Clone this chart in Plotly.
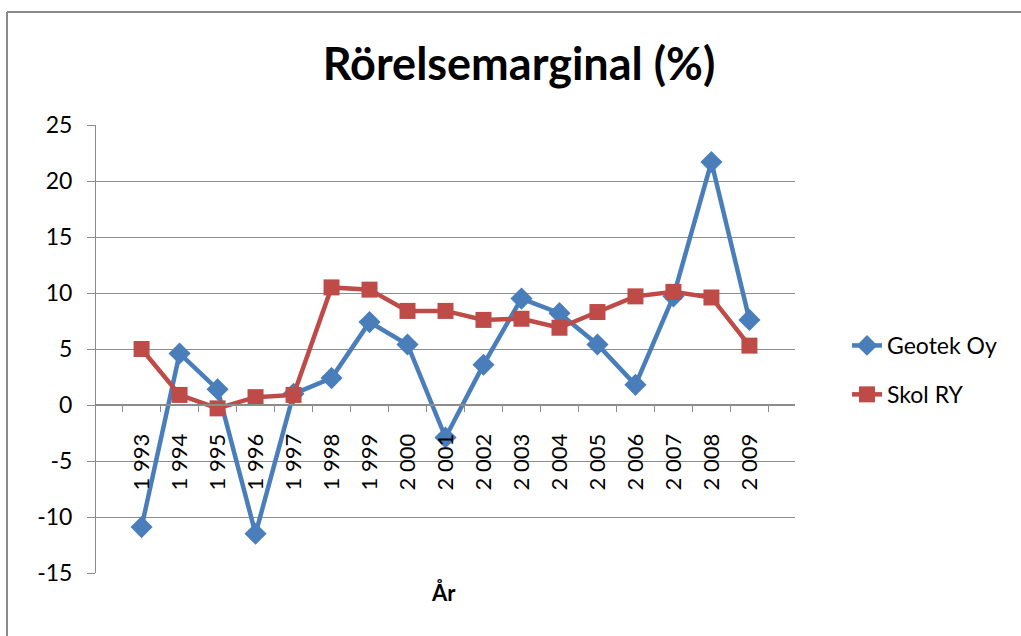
"""Rörelsemarginal line chart (Excel-style)."""
import plotly.graph_objects as go

years = [str(y) for y in range(1993, 2010)]
tick_labels = [f"{y[0]} {y[1:]}" for y in years]
y_ticks = [-15, -10, -5, 0, 5, 10, 15, 20, 25]

geotek = [-10.9, 4.6, 1.4, -11.5, 1.0, 2.4, 7.4, 5.4, -2.9, 3.6,
          9.5, 8.2, 5.4, 1.8, 9.7, 21.7, 7.6]
skol = [5.0, 0.9, -0.3, 0.7, 0.9, 10.5, 10.3, 8.4, 8.4, 7.6,
        7.7, 6.9, 8.3, 9.7, 10.1, 9.6, 5.3]

BLUE = "#4a7ebb"
RED = "#be4b48"
GRID = "#8c8c8c"
FONT = "Lato, 'Open Sans', sans-serif"

W, H = 1021, 636
L, R, T, B = 96, 226, 125, 63
pw, ph = W - L - R, H - T - B


def px_x(x):
    return (x - L) / pw


def px_y(y):
    return (H - B - y) / ph


fig = go.Figure()
fig.add_trace(go.Scatter(
    x=years, y=geotek, mode="lines+markers", name="Geotek Oy",
    line=dict(color=BLUE, width=4.5),
    marker=dict(symbol="diamond", size=17, color=BLUE),
    legendgroup="a",
))
fig.add_trace(go.Scatter(
    x=years, y=skol, mode="lines+markers", name="Skol RY",
    line=dict(color=RED, width=4.5),
    marker=dict(symbol="square", size=16, color=RED),
    legendgroup="b",
))

fig.update_layout(
    width=W, height=H,
    margin=dict(l=L, r=R, t=T, b=B),
    paper_bgcolor="white", plot_bgcolor="white",
    font=dict(family=FONT, size=22, color="black"),
    title=dict(text="<b>Rörelsemarginal (%)</b>", x=519 / W,
               xanchor="center", y=1 - 64 / H, yanchor="middle",
               font=dict(family=FONT, size=45, color="black")),
    legend=dict(x=px_x(847), y=px_y(370), xanchor="left", yanchor="middle",
                font=dict(size=23), tracegroupgap=16, bgcolor="rgba(0,0,0,0)"),
    showlegend=True,
)

fig.update_yaxes(
    range=[-15, 25], tickvals=y_ticks, ticktext=[str(v) for v in y_ticks],
    showline=True, linecolor=GRID, linewidth=1,
    ticks="outside", ticklen=8, tickcolor=GRID, showgrid=True,
    gridcolor=GRID, gridwidth=1, zeroline=False, fixedrange=True,
    tickfont=dict(size=23), ticklabelstandoff=10,
)
fig.update_xaxes(
    type="category", anchor="free", position=15 / 40,
    tickvals=years, ticktext=tick_labels, tickangle=-90,
    showline=True, linecolor=GRID, linewidth=2,
    ticks="outside", ticklen=6, tickcolor=GRID, tickson="boundaries",
    showgrid=False, zeroline=False, tickfont=dict(size=22),
    ticklabelstandoff=19,
)

# x-axis title
fig.add_annotation(text="<b>År</b>", xref="paper", yref="paper",
                   x=px_x(443), y=px_y(592), yanchor="middle", showarrow=False,
                   font=dict(size=22, color="black"))

# outer chart frame: only the left and top edges are inside the picture
frame = dict(color="#8a8a8a", width=2)
fig.add_shape(type="line", xref="paper", yref="paper",
              x0=px_x(7), x1=px_x(7), y0=px_y(H), y1=px_y(12), line=frame)
fig.add_shape(type="line", xref="paper", yref="paper",
              x0=px_x(7), x1=px_x(W), y0=px_y(12), y1=px_y(12), line=frame)

fig.write_html(
    "out.html", config={"displayModeBar": False},
    post_script="document.body.style.margin='0px';"
                "document.body.style.overflow='hidden';",
)
